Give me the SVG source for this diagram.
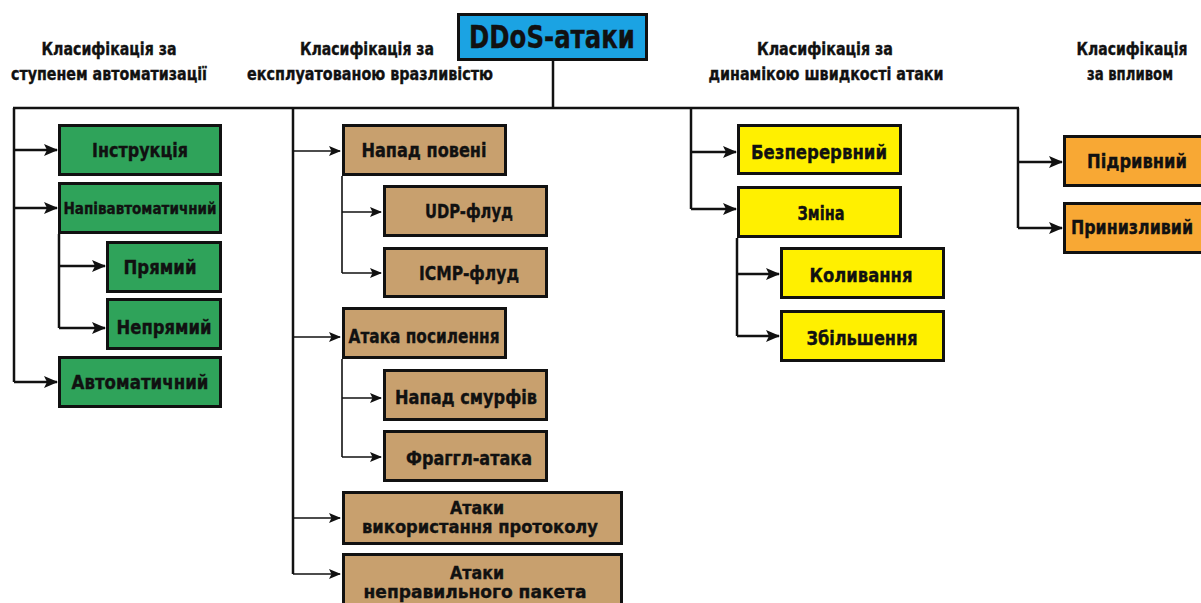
<svg xmlns="http://www.w3.org/2000/svg" width="1201" height="603" viewBox="0 0 1201 603">
<style>
text{font-family:"DejaVu Sans Condensed","DejaVu Sans","Liberation Sans",sans-serif;font-stretch:condensed;font-weight:bold;fill:#111;stroke:#111;stroke-width:0.35;text-anchor:middle}
.hd{font-size:17.5px}
.bx{stroke:#111;stroke-width:3}
.g{fill:#2fa35a}.t{fill:#c8a06e}.y{fill:#fff000}.o{fill:#f8a834}.b{fill:#1ba3e3}
.n{font-size:19.5px}
.n2{font-size:17.5px}
.ln{fill:none;stroke:#111;stroke-width:2.5}
.lt{fill:none;stroke:#111;stroke-width:1.6}
</style>
<defs>
<marker id="ah" markerUnits="userSpaceOnUse" markerWidth="14" markerHeight="12" refX="13" refY="6" orient="auto"><path d="M0,0 L14,6 L0,12 L3,6 Z" fill="#111"/></marker>
<marker id="as" markerUnits="userSpaceOnUse" markerWidth="12" markerHeight="10" refX="11" refY="5" orient="auto"><path d="M0,0 L12,5 L0,10 L2.5,5 Z" fill="#111"/></marker>
</defs>
<rect width="1201" height="603" fill="#fff"/>

<g id="headers">
<text class="hd" x="109" y="55" textLength="135" lengthAdjust="spacingAndGlyphs">Класифікація за</text>
<text class="hd" x="109" y="80" textLength="196" lengthAdjust="spacingAndGlyphs">ступенем автоматизації</text>
<text class="hd" x="367" y="55" textLength="134" lengthAdjust="spacingAndGlyphs">Класифікація за</text>
<text class="hd" x="370" y="80" textLength="246" lengthAdjust="spacingAndGlyphs">експлуатованою вразливістю</text>
<text class="hd" x="825" y="55" textLength="136" lengthAdjust="spacingAndGlyphs">Класифікація за</text>
<text class="hd" x="826" y="80" textLength="235" lengthAdjust="spacingAndGlyphs">динамікою швидкості атаки</text>
<text class="hd" x="1132" y="55" textLength="111" lengthAdjust="spacingAndGlyphs">Класифікація</text>
<text class="hd" x="1130" y="80" textLength="86" lengthAdjust="spacingAndGlyphs">за впливом</text>
</g>

<g id="connectors">
<path class="ln" d="M553,61 V108 M13,108 H1019"/>
<path class="ln" d="M14,108 V382"/>
<path class="ln" d="M14,150 H57" marker-end="url(#ah)"/>
<path class="ln" d="M14,208 H57" marker-end="url(#ah)"/>
<path class="ln" d="M14,382 H57" marker-end="url(#ah)"/>
<path class="ln" d="M59,234 V328"/>
<path class="ln" d="M59,266 H105" marker-end="url(#ah)"/>
<path class="ln" d="M59,328 H105" marker-end="url(#ah)"/>

<path class="ln" d="M293,108 V574"/>
<path class="lt" d="M293,151 H340" marker-end="url(#as)"/>
<path class="lt" d="M293,337 H340" marker-end="url(#as)"/>
<path class="lt" d="M293,518 H340" marker-end="url(#as)"/>
<path class="lt" d="M293,574 H340" marker-end="url(#as)"/>
<path class="lt" d="M342,176 V273"/>
<path class="lt" d="M342,212 H381" marker-end="url(#as)"/>
<path class="lt" d="M342,273 H381" marker-end="url(#as)"/>
<path class="lt" d="M342,359 V457"/>
<path class="lt" d="M342,398 H381" marker-end="url(#as)"/>
<path class="lt" d="M342,457 H381" marker-end="url(#as)"/>

<path class="ln" d="M691,108 V209"/>
<path class="ln" d="M691,152 H736" marker-end="url(#ah)"/>
<path class="ln" d="M691,209 H736" marker-end="url(#ah)"/>
<path class="ln" d="M737,238 V336"/>
<path class="ln" d="M737,274 H779" marker-end="url(#ah)"/>
<path class="ln" d="M737,336 H779" marker-end="url(#ah)"/>

<path class="ln" d="M1018,108 V228"/>
<path class="ln" d="M1018,162 H1062" marker-end="url(#ah)"/>
<path class="ln" d="M1018,228 H1062" marker-end="url(#ah)"/>
</g>

<g id="root">
<rect class="bx b" x="458.5" y="14.5" width="188" height="45"/>
<text x="552" y="48" font-size="32" textLength="166" lengthAdjust="spacingAndGlyphs">DDoS-атаки</text>
</g>

<g id="n-instr"><rect class="bx g" x="59.5" y="125.5" width="161" height="49"/><text class="n" x="140" y="157" textLength="96" lengthAdjust="spacingAndGlyphs">Інструкція</text></g>
<g id="n-napiv"><rect class="bx g" x="59.5" y="183.5" width="161" height="49"/><text x="140" y="214" font-size="16" textLength="153" lengthAdjust="spacingAndGlyphs">Напівавтоматичний</text></g>
<g id="n-pryamyi"><rect class="bx g" x="107.5" y="242.5" width="113" height="49"/><text class="n" x="160" y="274" textLength="73" lengthAdjust="spacingAndGlyphs">Прямий</text></g>
<g id="n-nepryamyi"><rect class="bx g" x="107.5" y="299.5" width="113" height="49"/><text class="n" x="164" y="334" textLength="95" lengthAdjust="spacingAndGlyphs">Непрямий</text></g>
<g id="n-avtomat"><rect class="bx g" x="59.5" y="357.5" width="161" height="49"/><text class="n" x="140" y="389" textLength="137" lengthAdjust="spacingAndGlyphs">Автоматичний</text></g>

<g id="n-povin"><rect class="bx t" x="343.5" y="125.5" width="162" height="49"/><text class="n" x="424" y="157" textLength="125" lengthAdjust="spacingAndGlyphs">Напад повені</text></g>
<g id="n-udp"><rect class="bx t" x="384.5" y="186.5" width="162" height="49"/><text class="n" x="469" y="218" textLength="88" lengthAdjust="spacingAndGlyphs">UDP-флуд</text></g>
<g id="n-icmp"><rect class="bx t" x="384.5" y="248.5" width="162" height="48"/><text class="n" x="469" y="280" textLength="100" lengthAdjust="spacingAndGlyphs">ICMP-флуд</text></g>
<g id="n-posyl"><rect class="bx t" x="343.5" y="308.5" width="162" height="49"/><text class="n" x="424" y="343" textLength="151" lengthAdjust="spacingAndGlyphs">Атака посилення</text></g>
<g id="n-smurf"><rect class="bx t" x="384.5" y="370.5" width="162" height="49"/><text class="n" x="466" y="404" textLength="142" lengthAdjust="spacingAndGlyphs">Напад смурфів</text></g>
<g id="n-fraggle"><rect class="bx t" x="384.5" y="431.5" width="162" height="49"/><text class="n" x="469" y="465" textLength="126" lengthAdjust="spacingAndGlyphs">Фраггл-атака</text></g>
<g id="n-protocol"><rect class="bx t" x="343.5" y="492.5" width="278" height="51"/><text class="n2" x="477" y="514" textLength="54" lengthAdjust="spacingAndGlyphs">Атаки</text><text class="n2" x="480" y="533" textLength="236" lengthAdjust="spacingAndGlyphs">використання протоколу</text></g>
<g id="n-packet"><rect class="bx t" x="343.5" y="554.5" width="278" height="52"/><text class="n2" x="477" y="579" textLength="54" lengthAdjust="spacingAndGlyphs">Атаки</text><text class="n2" x="475" y="598" textLength="223" lengthAdjust="spacingAndGlyphs">неправильного пакета</text></g>

<g id="n-bezper"><rect class="bx y" x="738.5" y="125.5" width="162" height="48"/><text class="n" x="819" y="159" textLength="136" lengthAdjust="spacingAndGlyphs">Безперервний</text></g>
<g id="n-zmina"><rect class="bx y" x="738.5" y="187.5" width="162" height="49"/><text class="n" x="821" y="220" textLength="47" lengthAdjust="spacingAndGlyphs">Зміна</text></g>
<g id="n-kolyv"><rect class="bx y" x="781.5" y="248.5" width="162" height="49"/><text class="n" x="861" y="282" textLength="103" lengthAdjust="spacingAndGlyphs">Коливання</text></g>
<g id="n-zbil"><rect class="bx y" x="781.5" y="311.5" width="162" height="49"/><text class="n" x="862" y="345" textLength="111" lengthAdjust="spacingAndGlyphs">Збільшення</text></g>

<g id="n-pidryv"><rect class="bx o" x="1064.5" y="136.5" width="150" height="49"/><text class="n" x="1137" y="168" textLength="100" lengthAdjust="spacingAndGlyphs">Підривний</text></g>
<g id="n-pryn"><rect class="bx o" x="1064.5" y="203.5" width="150" height="49"/><text class="n" x="1132" y="234" textLength="122" lengthAdjust="spacingAndGlyphs">Принизливий</text></g>
</svg>
